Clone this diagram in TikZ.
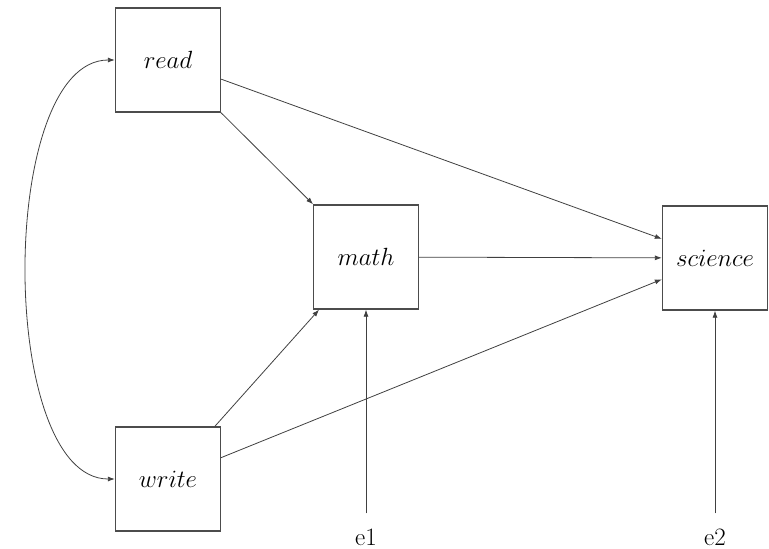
\documentclass[tikz,border=0pt]{standalone}
\usetikzlibrary{arrows.meta}
\begin{document}
\begin{tikzpicture}[x=1pt,y=-1pt,
  var/.style={draw=black!70,line width=1.3pt,minimum width=105pt,minimum height=104pt,
    inner sep=0pt,font=\fontsize{24}{28}\selectfont},
  err/.style={inner sep=2pt,font=\fontsize{25}{29}\selectfont},
  path/.style={draw=black!75,line width=0.8pt,-{Latex[length=7pt,width=5pt]}}]
  \useasboundingbox (0,0) rectangle (769,549);
  % observed variables
  \node[var] (read) at (168,60) {$read$};
  \node[var] (math) at (366,257) {$math$};
  \node[var] (science) at (715,258) {$science$};
  \node[var] (write) at (168,479) {$write$};
  % error terms
  \node[err] (e1) at (366,537) {e1};
  \node[err] (e2) at (715,537) {e2};
  % structural paths
  \draw[path] (read) -- (math);
  \draw[path] (read) -- (science);
  \draw[path] (write) -- (math);
  \draw[path] (write) -- (science);
  \draw[path] (math) -- (science);
  \draw[path,shorten <=13pt] (e1.north) -- (math.south);
  \draw[path,shorten <=13pt] (e2.north) -- (science.south);
  % covariance between read and write
  \draw[path,{Latex[length=7pt,width=5pt]}-{Latex[length=7pt,width=5pt]}]
    (read.west) to[out=180,in=180,looseness=0.72] (write.west);
\end{tikzpicture}
\end{document}
